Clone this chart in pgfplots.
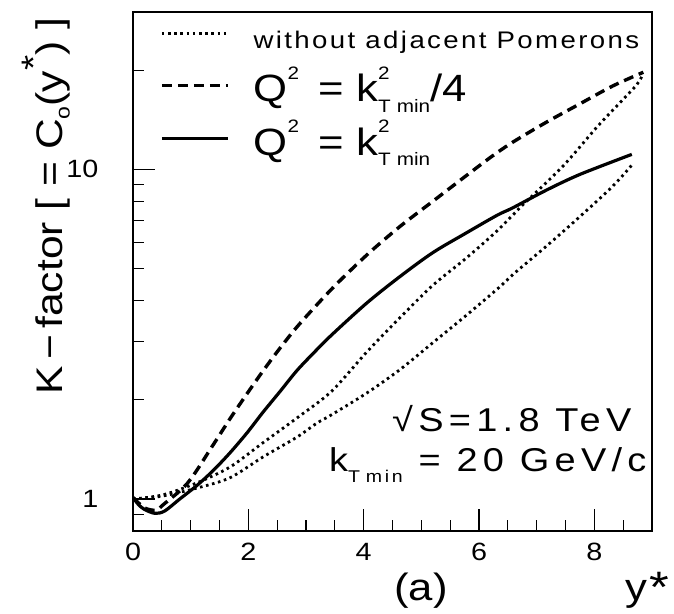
\documentclass[border=0pt]{standalone}
\usepackage{fontspec}
\setmainfont{Liberation Sans}[FakeStretch=1.15]
\newfontfamily\widefont{Liberation Sans}[FakeStretch=1.15,LetterSpace=16]
\newfontfamily\legfont{Liberation Sans}[FakeStretch=1.15,LetterSpace=10]
\usepackage{pgfplots}
\pgfplotsset{compat=1.18}
\newcommand{\fs}[1]{\fontsize{#1}{#1}\selectfont}
% k^2_{T min} in PAW style
\newcommand{\kT}[1]{k\rlap{\raisebox{0.58em}{\fs{#1}2}}\raisebox{-0.28em}{\fs{#1}T\,\,min}}
\newcommand{\kTs}[1]{k\raisebox{-0.32em}{\fs{#1}T\,\,min}}

\begin{document}
\begin{tikzpicture}[x=1pt,y=1pt]
\path[use as bounding box] (0,0) rectangle (674,613);
\begin{axis}[
  at={(133pt,82pt)}, anchor=south west,
  width=519pt, height=519pt, scale only axis,
  ymode=log, xmin=0, xmax=9, ymin=0.8, ymax=30,
  axis line style={line width=1.2pt},
  tick style={line width=1.1pt, black},
  tick align=inside, tick pos=left,
  major tick length=22pt, minor tick length=11pt,
  xtick={0,2,4,6,8},
  minor xtick={0.5,1,1.5,2.5,3,3.5,4.5,5,5.5,6.5,7,7.5,8.5},
  ytick={1,10}, yticklabels={1,10},
  minor ytick={0.9,2,3,4,5,6,7,8,9,20},
  /pgf/number format/assume math mode=true,
  xticklabel style={font=\fs{25pt}, yshift=-9pt},
  yticklabel style={font=\fs{25pt}, xshift=-31pt},
  legend style={draw=none, fill=none, at={(rel axis cs:0.052,0.995)},
    anchor=north west, inner sep=0pt, row sep=13pt,
    cells={anchor=west}, legend cell align=left},
  legend image code/.code={\draw[#1] (0pt,0pt) -- (66pt,0pt); \path (88pt,0pt);},
  every axis plot/.append style={smooth, tension=0.5},
]
\addplot[black, line width=2.8pt, dash pattern=on 2.6pt off 3.6pt] coordinates {
 (0,1.0) (0.52,1.03) (1.11,1.12) (1.68,1.25) (2.25,1.48) (2.84,1.76)
 (3.44,2.12) (4.06,2.80) (4.63,3.55) (5.2,4.45) (5.79,5.4) (6.31,6.5)
 (6.76,7.8) (7.45,10.2) (8.04,13.4) (8.44,15.9) (8.73,18.0) (8.85,19.5)};
\addlegendentry{\rule[-20pt]{0pt}{52pt}\fs{24pt}\legfont without adjacent Pomerons}
\addplot[black, line width=3.4pt, dash pattern=on 10pt off 6pt] coordinates {
 (0,1.01) (0.2,0.94) (0.4,0.925) (0.52,0.96) (0.95,1.12) (1.39,1.46)
 (1.68,1.75) (1.98,2.09) (2.25,2.44) (2.55,2.87) (2.89,3.40) (3.47,4.38)
 (4.06,5.51) (4.63,6.71) (5.2,8.0) (5.79,9.6) (6.24,11.0) (6.59,12.1)
 (7.17,13.9) (7.75,15.8) (8.32,17.9) (8.85,19.7)};
\addlegendentry{\fs{38pt}Q\rlap{\raisebox{0.58em}{\fs{18pt}2}}\hspace{0.5em} = \kT{18pt}/4}
\addplot[black, line width=3.2pt] coordinates {
 (0,1.01) (0.1,0.96) (0.2,0.93) (0.38,0.905) (0.55,0.92) (0.81,1.0)
 (1.11,1.10) (1.39,1.22) (1.68,1.38) (1.98,1.59) (2.25,1.83) (2.55,2.12)
 (2.84,2.45) (3.12,2.76) (3.44,3.14) (4.06,3.94) (4.63,4.73) (5.2,5.59)
 (5.79,6.43) (6.31,7.25) (6.59,7.65) (7.17,8.65) (7.75,9.65) (8.65,11.1)};
\addlegendentry{\fs{38pt}Q\rlap{\raisebox{0.58em}{\fs{18pt}2}}\hspace{0.5em} = \kT{18pt}}
\addplot[black, line width=2.8pt, dash pattern=on 2.6pt off 3.6pt, forget plot] coordinates {
 (0,1.0) (0.5,1.02) (1.11,1.08) (1.68,1.16) (2.25,1.34) (2.84,1.54)
 (3.19,1.70) (3.44,1.80) (4.06,2.10) (4.63,2.47) (5.2,2.98) (5.79,3.62)
 (6.36,4.4) (6.59,4.8) (7.17,5.85) (7.75,7.19) (8.32,8.89) (8.65,10.3)};
\end{axis}
\node[rotate=90, font=\fs{37pt}] at (46,407)
  {K\,−\,factor [ = C\raisebox{-0.2em}{\fs{20pt}o}(y\raisebox{0.45em}{\fs{34pt}*}) ]};
\node[anchor=base east, font=\fs{33pt}\widefont] at (635,181) {√S=1.8 TeV};
\node[anchor=base east, font=\fs{33pt}\widefont] at (650,141) {\kTs{17pt} = 20 GeV/c};
\node[anchor=base, font=\fs{38pt}] at (421,13) {(a)};
\node[anchor=base west, font=\fs{38pt}] at (622,13) {y};
\node[font=\fs{44pt}] at (659,26) {*};
\end{tikzpicture}
\end{document}
